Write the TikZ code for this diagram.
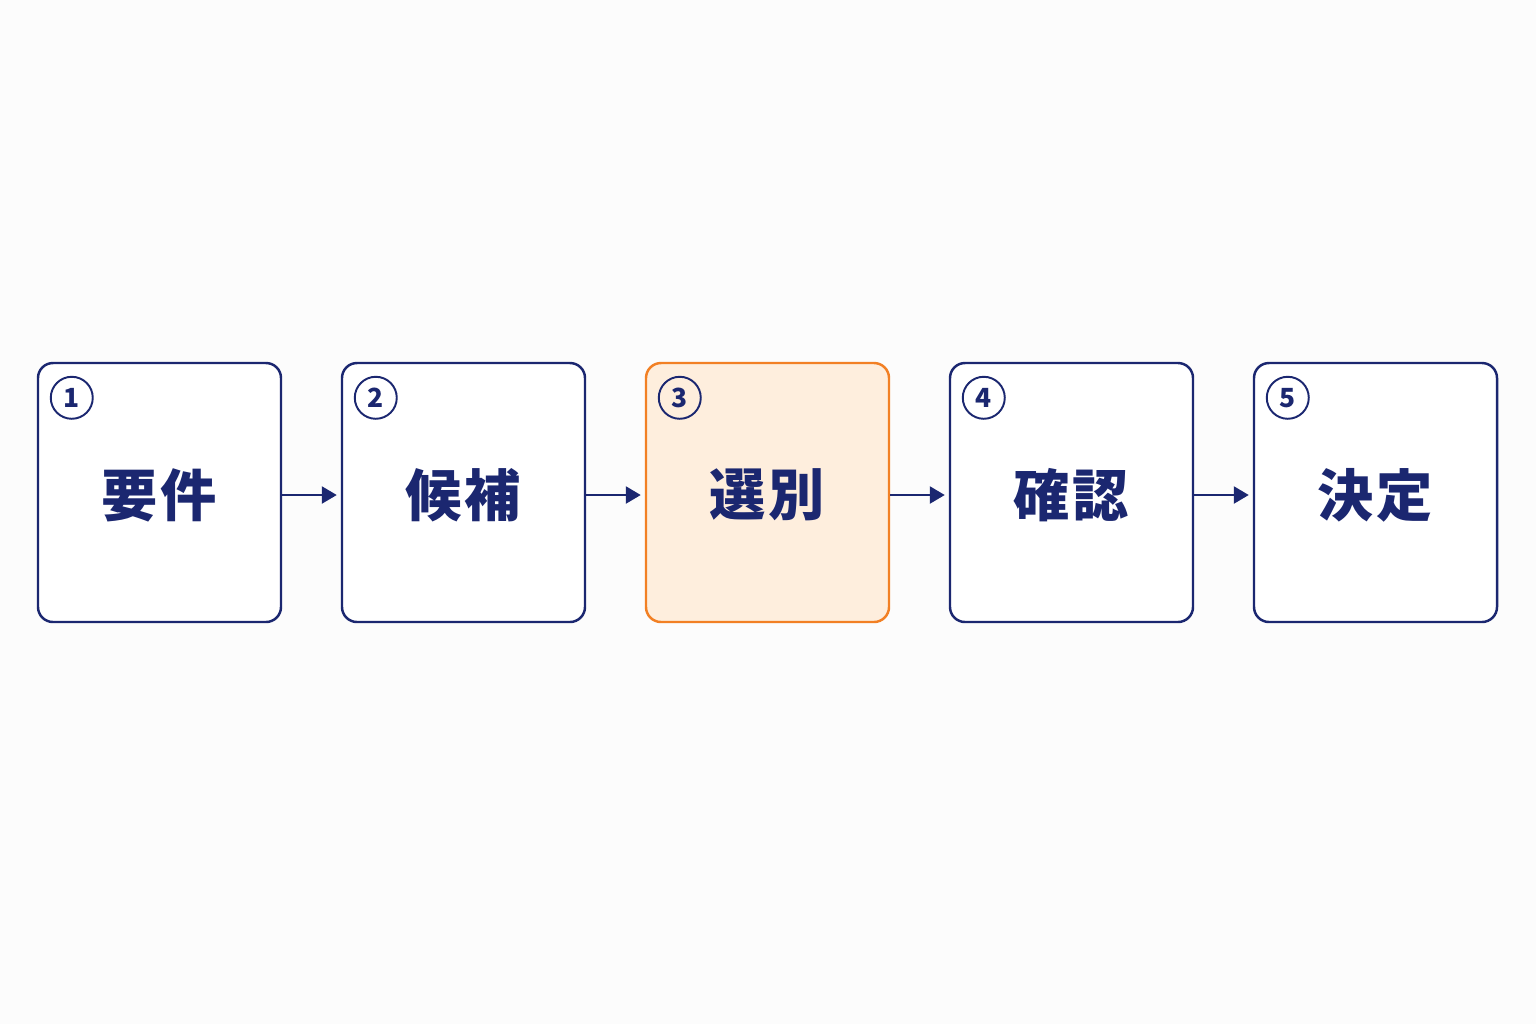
\documentclass[tikz,border=0pt]{standalone}
\usepackage{fontspec}
\newfontfamily\cjk{Noto Sans CJK JP}
\usetikzlibrary{positioning,arrows.meta}
\definecolor{nv}{RGB}{27, 39, 112}
\definecolor{og}{RGB}{242, 128, 36}
\definecolor{pe}{RGB}{254, 238, 221}
\definecolor{bg}{RGB}{252, 252, 252}
\def\height{5.18cm}
\def\width{4.86cm}
\newcommand{\stepnode}[7]{\node[minimum height=\height,minimum width=\width,draw=#6,fill=#7,rectangle,rounded corners=0.3cm,line width=1.4pt] (#3) at (#1,#2) {};
	\node[color=nv,font=\cjk\bfseries\fontsize{32}{38}\selectfont,inner sep=0cm] at ([yshift=-0.05cm]#3) {#4};
	\node[draw=nv,circle,line width=1.1pt,minimum size=0.84cm,inner sep=0cm,color=nv,font=\cjk\bfseries\fontsize{15}{18}\selectfont] at ([xshift=0.7cm,yshift=-0.72cm]#3.north west) {#5}; }

\begin{document}
\begin{tikzpicture}
				\fill[bg] (0,0) rectangle (30.72,-20.48);
				\useasboundingbox (0,0) rectangle (30.72,-20.48);

				\stepnode{3.19}{-9.85}{A}{要\hspace{1.5pt}件}{1}{nv}{white}
				\stepnode{9.27}{-9.85}{B}{候\hspace{1.5pt}補}{2}{nv}{white}
				\stepnode{15.35}{-9.85}{C}{選\hspace{1.5pt}別}{3}{og}{pe}
				\stepnode{21.43}{-9.85}{D}{確\hspace{1.5pt}認}{4}{nv}{white}
				\stepnode{27.51}{-9.85}{E}{決\hspace{1.5pt}定}{5}{nv}{white}

				\draw[-{Triangle[length=0.3cm,width=0.34cm]},color=nv,line width=1.4pt,shorten >=0.08cm] ([yshift=-0.05cm]A.east) -- ([yshift=-0.05cm]B.west);
				\draw[-{Triangle[length=0.3cm,width=0.34cm]},color=nv,line width=1.4pt,shorten >=0.08cm] ([yshift=-0.05cm]B.east) -- ([yshift=-0.05cm]C.west);
				\draw[-{Triangle[length=0.3cm,width=0.34cm]},color=nv,line width=1.4pt,shorten >=0.08cm] ([yshift=-0.05cm]C.east) -- ([yshift=-0.05cm]D.west);
				\draw[-{Triangle[length=0.3cm,width=0.34cm]},color=nv,line width=1.4pt,shorten >=0.08cm] ([yshift=-0.05cm]D.east) -- ([yshift=-0.05cm]E.west);
			\end{tikzpicture}
\end{document}
